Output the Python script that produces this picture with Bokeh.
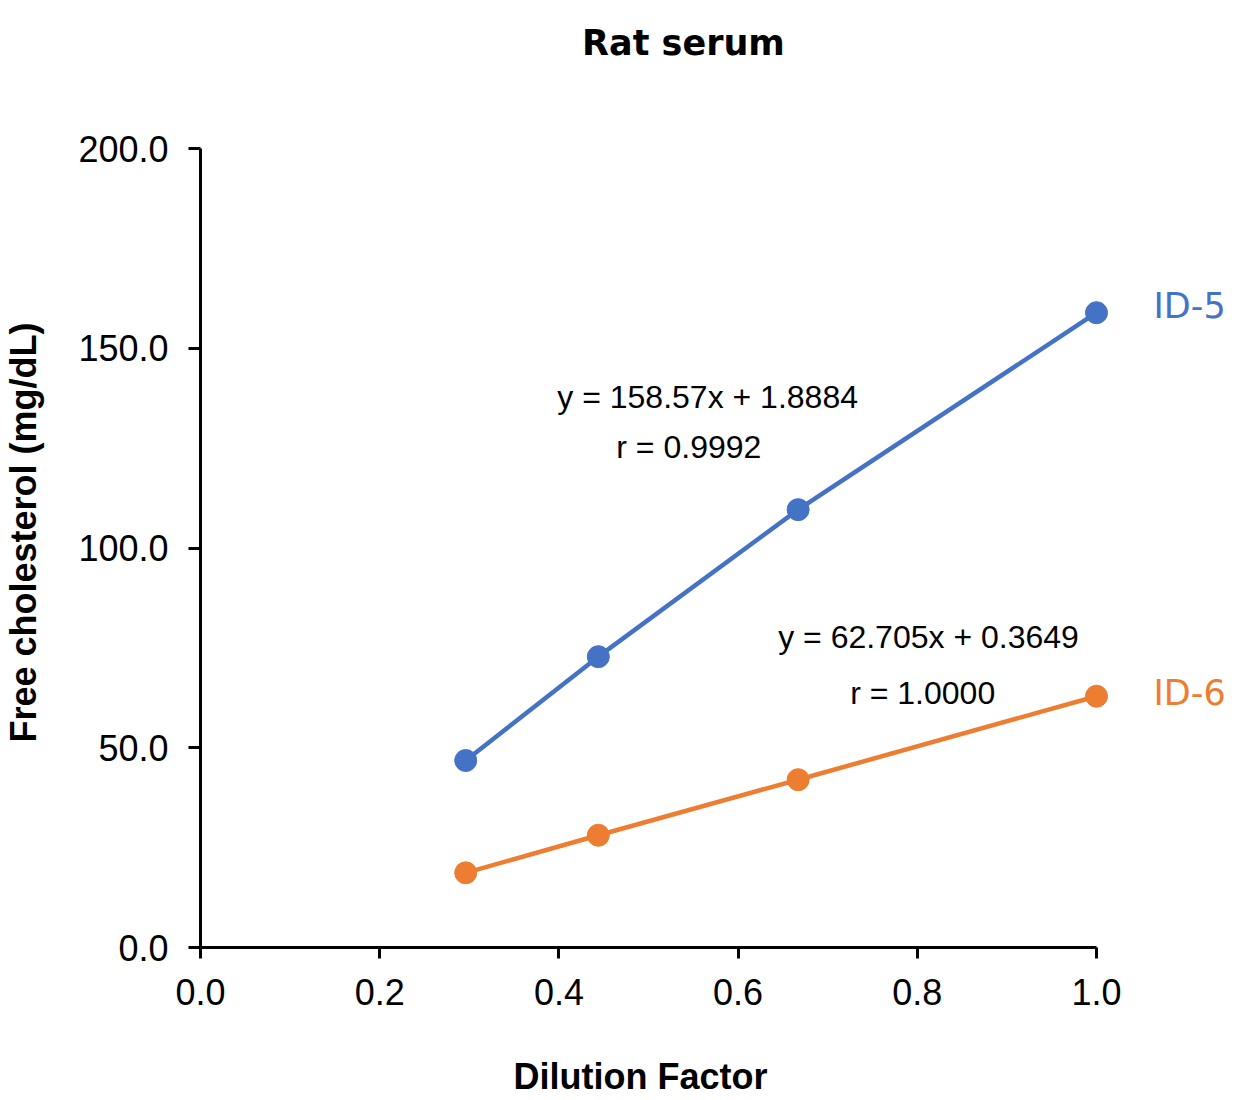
from bokeh.plotting import figure
from bokeh.models import Range1d, Label, FixedTicker, NumeralTickFormatter, Title
from bokeh.embed import file_html
from bokeh.resources import INLINE

# Data
dilution = [0.296, 0.444, 0.667, 1.0]
id5 = [46.8, 72.8, 109.6, 158.9]
id6 = [18.7, 28.1, 42.0, 62.9]
series_names = ["ID-5", "ID-6"]
eq5 = ["y = 158.57x + 1.8884", "r = 0.9992"]
eq6 = ["y = 62.705x + 0.3649", "r = 1.0000"]
x_ticks = [0.0, 0.2, 0.4, 0.6, 0.8, 1.0]
y_ticks = [0.0, 50.0, 100.0, 150.0, 200.0]

BLUE = "#4472C4"
ORANGE = "#ED7D31"

# frame extends to the canvas edges (right/top) so that outer texts are not clipped;
# axis lines are bounded to the data extent 0..1 and 0..200
p = figure(width=1250, height=1100, output_backend="svg", toolbar_location=None,
           x_range=Range1d(0, 1050 / 896), y_range=Range1d(0, 947 / 3.995),
           min_border_left=200, min_border_right=0, min_border_top=0,
           min_border_bottom=153)
p.outline_line_color = None
p.grid.visible = False
p.background_fill_color = "white"
p.border_fill_color = "white"

for ax in (p.xaxis[0], p.yaxis[0]):
    ax.axis_line_width = 3
    ax.axis_line_color = "black"
    ax.major_tick_line_width = 3
    ax.major_tick_line_color = "black"
    ax.major_tick_in = 0
    ax.minor_tick_line_color = None
    ax.major_label_text_font = "Liberation Sans"
    ax.major_label_text_font_size = "36px"
    ax.major_label_text_color = "black"
    ax.major_label_standoff = 20

p.xaxis[0].ticker = FixedTicker(ticks=x_ticks)
p.yaxis[0].ticker = FixedTicker(ticks=y_ticks)
p.xaxis[0].bounds = (0, 1.0)
p.yaxis[0].bounds = (0, 200)
p.xaxis[0].formatter = NumeralTickFormatter(format="0.0")
p.yaxis[0].formatter = NumeralTickFormatter(format="0.0")
p.xaxis[0].major_tick_out = 11
p.yaxis[0].major_tick_out = 12

# spacers between axes and their titles
p.add_layout(Title(text=" ", standoff=43, text_font_size="1px"), "below")
p.add_layout(Title(text=" ", standoff=29, text_font_size="1px"), "left")

# Axis titles (as side titles so they can be positioned along the bounded axes)
p.add_layout(Title(text="Dilution Factor", align="left", offset=313, standoff=0,
                   text_font="Liberation Sans", text_font_style="bold",
                   text_font_size="36px", text_color="black"), "below")
p.add_layout(Title(text="Free cholesterol (mg/dL)", align="left", offset=205, standoff=0,
                   text_font="Liberation Sans", text_font_style="bold",
                   text_font_size="36px", text_color="black"), "left")

# Series
p.line(dilution, id5, line_color=BLUE, line_width=4.5)
p.scatter(dilution, id5, size=22, fill_color=BLUE, line_color=BLUE)
p.line(dilution, id6, line_color=ORANGE, line_width=4.5)
p.scatter(dilution, id6, size=22, fill_color=ORANGE, line_color=ORANGE)

# Chart title
p.add_layout(Label(x=0.539, y=226.5, text="Rat serum", text_font="DejaVu Sans",
                   text_font_size="35px", text_font_style="bold", text_color="black",
                   text_align="center", text_baseline="middle"))

# Series labels
p.add_layout(Label(x=1.0636, y=160.7, text=series_names[0], text_font="DejaVu Sans",
                   text_font_size="35px", text_color=BLUE, text_align="left",
                   text_baseline="middle"))
p.add_layout(Label(x=1.0636, y=63.8, text=series_names[1], text_font="DejaVu Sans",
                   text_font_size="35px", text_color=ORANGE, text_align="left",
                   text_baseline="middle"))

# Equations
for txt, xx, yy in [(eq5[0], 0.566, 137.7), (eq5[1], 0.545, 125.4),
                    (eq6[0], 0.8125, 77.6), (eq6[1], 0.806, 63.6)]:
    p.add_layout(Label(x=xx, y=yy, text=txt, text_font="Liberation Sans",
                       text_font_size="32px", text_color="black",
                       text_align="center", text_baseline="middle"))

open("out.html", "w").write(file_html(p, INLINE))
